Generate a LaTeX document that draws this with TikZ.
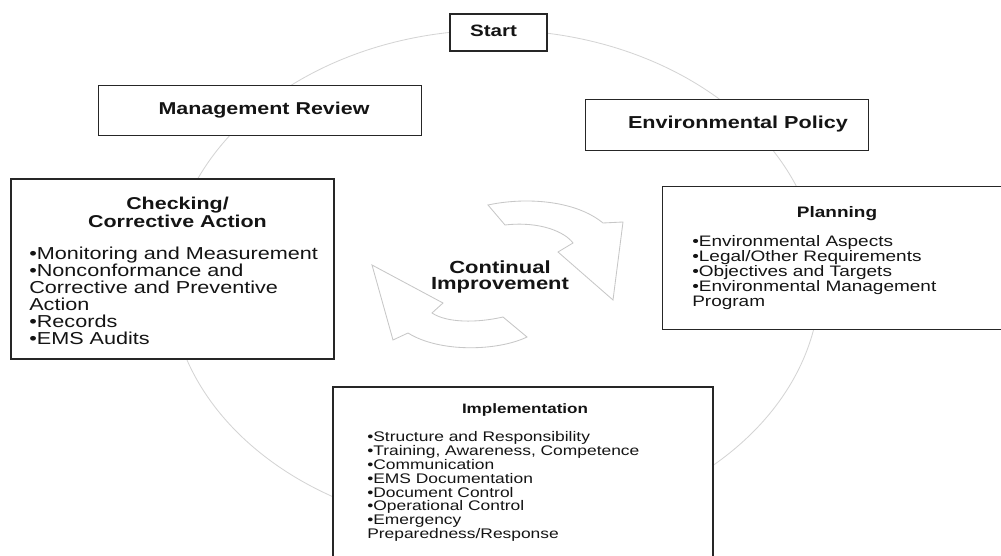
\documentclass[tikz,border=0pt]{standalone}
\usepackage{fontspec}
\setmainfont{Liberation Sans}[FakeStretch=1.25]
\newcommand{\unitpx}{0.025cm}
\begin{document}
\begin{tikzpicture}
  [x=0.025cm,y=-0.025cm,
   ring/.style={draw=black!17,line width=0.6pt},
   swirl/.style={draw=black!22,fill=white,line width=0.6pt},
   stage/.style={draw=black!85,fill=white,line width=0.9pt,inner sep=0pt,anchor=north west},
   heavy/.style={line width=1.5pt},
   every node/.style={text=black!92,inner sep=0pt},
   head/.style={font=\fontsize{12.2}{12.8}\selectfont\bfseries},
   items/.style={font=\fontsize{12.3}{12.1}\selectfont,align=left,anchor=north west}]
  \useasboundingbox (0,0) rectangle (1001,556);

  % cycle behind the stages
  \draw[ring] (495,280) ellipse [x radius=325,y radius=250];

  % continual improvement arrows
  \draw[swirl] (488,205) .. controls (525,197) and (575,200) .. (603,223) -- (623,222)
    -- (613,300) -- (558,252) -- (573,243) .. controls (565,232) and (540,221) .. (505,225) -- cycle;
  \draw[swirl] (372,265) -- (443,303) -- (432,313) .. controls (447,323) and (477,323) .. (503,317)
    -- (527,337) .. controls (498,351) and (440,353) .. (408,333) -- (393,340) -- cycle;

  % boxes
  \node[stage,heavy,minimum width=97*\unitpx,minimum height=37*\unitpx] (startbox) at (449,13) {};
  \node[stage,minimum width=323*\unitpx,minimum height=50*\unitpx] (reviewbox) at (98,85) {};
  \node[stage,minimum width=283*\unitpx,minimum height=51*\unitpx] (policybox) at (585,99) {};
  \node[stage,heavy,minimum width=323*\unitpx,minimum height=180*\unitpx] (checkbox) at (10,178) {};
  \node[stage,minimum width=360*\unitpx,minimum height=143*\unitpx] (planbox) at (662,186) {};
  \node[stage,line width=1.2pt,minimum width=380*\unitpx,minimum height=190*\unitpx] (implbox) at (332,386) {};

  % texts
  \node[head,font=\fontsize{11.7}{12}\selectfont\bfseries,anchor=base] (start) at (493.5,37) {Start};
  \node[head,anchor=base] (review) at (264,115) {Management Review};
  \node[head,font=\fontsize{12.3}{12}\selectfont\bfseries,anchor=base] (policy) at (738,129) {Environmental Policy};

  \node[head,align=center,anchor=north] (checkhead) at (177.5,196.5) {Checking/\\Corrective Action};
  \node[items] (checkitems) at (29,246.5)
    {\textbullet Monitoring and Measurement\\
     \textbullet Nonconformance and\\
     Corrective and Preventive\\
     Action\\
     \textbullet Records\\
     \textbullet EMS Audits};

  \node[head,font=\fontsize{10.8}{11}\selectfont\bfseries,anchor=base] (planhead) at (837,218) {Planning};
  \node[items,font=\fontsize{10.8}{10.67}\selectfont] (planitems) at (692,235)
    {\textbullet Environmental Aspects\\
     \textbullet Legal/Other Requirements\\
     \textbullet Objectives and Targets\\
     \textbullet Environmental Management\\
     Program};

  \node[head,font=\fontsize{9.7}{10}\selectfont\bfseries,anchor=base] (implhead) at (525,414) {Implementation};
  \node[items,font=\fontsize{9.9}{9.9}\selectfont] (implitems) at (367,431)
    {\textbullet Structure and Responsibility\\
     \textbullet Training, Awareness, Competence\\
     \textbullet Communication\\
     \textbullet EMS Documentation\\
     \textbullet Document Control\\
     \textbullet Operational Control\\
     \textbullet Emergency\\
     Preparedness/Response};

  \node[head,font=\fontsize{12.5}{11.4}\selectfont\bfseries,align=center,anchor=north] (improve) at (500,260)
    {Continual\\Improvement};
\end{tikzpicture}
\end{document}
